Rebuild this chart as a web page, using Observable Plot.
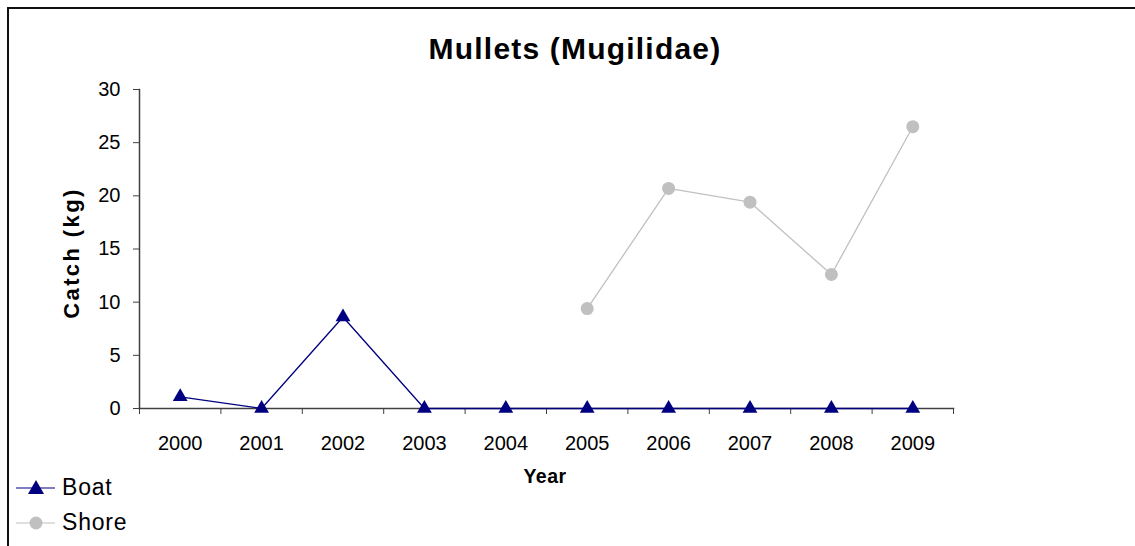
<!DOCTYPE html>
<html>
<head>
<meta charset="utf-8">
<script src="https://cdn.jsdelivr.net/npm/d3@7"></script>
<script src="https://cdn.jsdelivr.net/npm/@observablehq/plot@0.6"></script>
<style>
  html, body { margin: 0; padding: 0; background: #fff; }
  #wrap { position: relative; width: 1135px; height: 546px; overflow: hidden; font-family: "Liberation Sans", Arial, sans-serif; }
  #border { position: absolute; left: 7px; top: 7px; width: 1140px; height: 560px; border-left: 2px solid #111; border-top: 2px solid #111; box-sizing: border-box; }
  #chart { position: absolute; left: 0; top: 0; }
  .lbl { position: absolute; font-weight: bold; color: #000; white-space: nowrap; }
  #title { left: 0; width: 1150px; text-align: center; top: 32px; font-size: 30px; letter-spacing: 1.2px; }
  #ylab { left: 72px; top: 253px; font-size: 22px; letter-spacing: 2.4px; transform: translate(-50%, -50%) rotate(-90deg); }
  #xlab { left: 545px; top: 465px; font-size: 19.5px; transform: translateX(-50%); letter-spacing: 0.5px; }
  .leg { position: absolute; left: 14px; display: flex; align-items: center; font-size: 23px; letter-spacing: 0.8px; color: #000; }
  .leg svg { margin-right: 6px; }
</style>
</head>
<body>
<div id="wrap">
  <div id="border"></div>
  <div id="chart"></div>
  <div id="title" class="lbl">Mullets (Mugilidae)</div>
  <div id="ylab" class="lbl">Catch (kg)</div>
  <div id="xlab" class="lbl">Year</div>
  <div class="leg" style="top:474px"><svg width="42" height="26"><line x1="2" y1="13" x2="41" y2="13" stroke="#000080" stroke-width="1.2"/><path d="M22,5 L30,19 L14,19 Z" fill="#000080"/></svg>Boat</div>
  <div class="leg" style="top:509px"><svg width="42" height="26"><line x1="2" y1="13" x2="41" y2="13" stroke="#c0c0c0" stroke-width="1.2"/><circle cx="22" cy="13" r="6.5" fill="#c0c0c0"/></svg>Shore</div>
</div>
<script>
const years = [2000, 2001, 2002, 2003, 2004, 2005, 2006, 2007, 2008, 2009];
const boat  = [1.1, 0, 8.6, 0, 0, 0, 0, 0, 0, 0];
const shore = [null, null, null, null, null, 9.4, 20.7, 19.4, 12.6, 26.5];
const yTicks = [0, 5, 10, 15, 20, 25, 30];

const boatData = years.map((year, i) => ({year, value: boat[i]}));
const shoreData = years.map((year, i) => ({year, value: shore[i]})).filter(d => d.value != null);
const boundaries = [...years.map(y => y - 0.5), years[years.length - 1] + 0.5];

const chart = Plot.plot({
  width: 1135,
  height: 546,
  marginLeft: 139,
  marginRight: 182,
  marginTop: 89,
  marginBottom: 138,
  style: {fontFamily: "Liberation Sans, Arial, sans-serif", fontSize: "20px", background: "transparent", color: "#000"},
  x: {type: "linear", domain: [boundaries[0], boundaries[boundaries.length - 1]]},
  y: {domain: [0, 30]},
  marks: [
    Plot.axisY({ticks: yTicks, tickSize: 6, tickPadding: 13, stroke: "#404040", fill: "#000", label: null, fontSize: 20}),
    Plot.axisX({ticks: boundaries, tickSize: 6, tickFormat: () => "", stroke: "#404040", label: null}),
    Plot.axisX({ticks: years, tickSize: 0, tickPadding: 27, tickFormat: d => String(d), fill: "#000", label: null, fontSize: 20}),
    Plot.frame({anchor: "left", stroke: "#404040", strokeWidth: 1.5}),
    Plot.frame({anchor: "bottom", stroke: "#404040", strokeWidth: 1.5}),
    Plot.lineY(shoreData, {x: "year", y: "value", stroke: "#c0c0c0", strokeWidth: 1.3}),
    Plot.dot(shoreData, {x: "year", y: "value", r: 6.5, fill: "#c0c0c0", symbol: "circle"}),
    Plot.lineY(boatData, {x: "year", y: "value", stroke: "#000080", strokeWidth: 1.3}),
    Plot.dot(boatData, {x: "year", y: "value", r: 5.5, fill: "#000080", symbol: "triangle"})
  ]
});
document.getElementById("chart").appendChild(chart);
</script>
</body>
</html>
